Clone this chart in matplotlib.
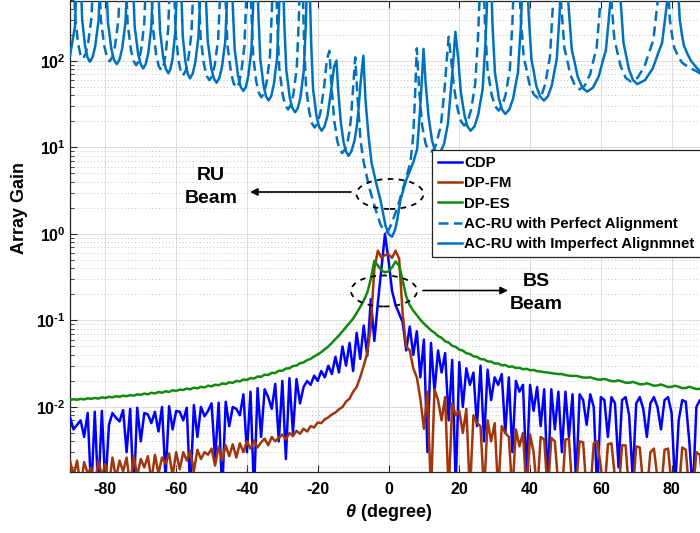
import numpy as np
import matplotlib
matplotlib.use('Agg')
import matplotlib.pyplot as plt
from matplotlib.patches import Ellipse
from matplotlib.ticker import LogLocator, NullFormatter, NullLocator

plt.rcParams['font.family'] = ['Liberation Sans', 'DejaVu Sans']
plt.rcParams['font.weight'] = 'bold'
plt.rcParams['mathtext.fontset'] = 'custom'
plt.rcParams['mathtext.rm'] = 'Liberation Sans:bold'
plt.rcParams['mathtext.bf'] = 'Liberation Sans:bold'
plt.rcParams['mathtext.it'] = 'Liberation Sans:italic'
plt.rcParams['mathtext.default'] = 'bf'
plt.rcParams['axes.unicode_minus'] = False

# ---------------- data ----------------
theta = np.arange(-90, 91)

cdp = [0.0076, 0.0055, 0.0062, 0.0070, 0.0045, 0.0085, 0.0010, 0.0088, 0.0010, 0.0090,
       0.0012, 0.0062, 0.0085, 0.0075, 0.0068, 0.0092, 0.0030, 0.0095, 0.0010, 0.0098,
       0.0040, 0.0085, 0.0082, 0.0065, 0.0088, 0.0052, 0.0100, 0.0015, 0.0102, 0.0055,
       0.0090, 0.0088, 0.0070, 0.0098, 0.0010, 0.0105, 0.0045, 0.0100, 0.0078, 0.0090,
       0.0110, 0.0025, 0.0112, 0.0010, 0.0115, 0.0060, 0.0100, 0.0095, 0.0080, 0.0140,
       0.0030, 0.0150, 0.0010, 0.0165, 0.0045, 0.0160, 0.0130, 0.0095, 0.0185, 0.0040,
       0.0200, 0.0025, 0.0215, 0.0050, 0.0210, 0.0110, 0.0170, 0.0200, 0.0180, 0.0230,
       0.0200, 0.0260, 0.0220, 0.0300, 0.0240, 0.0380, 0.0250, 0.0500, 0.0300, 0.0550,
       0.0260, 0.0720, 0.0360, 0.0870, 0.0390, 0.1770, 0.0580, 0.1600, 0.4000, 1.0000,
       0.5000, 0.2200, 0.1500, 0.1200, 0.0950, 0.0450, 0.0850, 0.0400, 0.0750, 0.0220,
       0.0600, 0.0030, 0.0550, 0.0150, 0.0450, 0.0250, 0.0420, 0.0070, 0.0350, 0.0012,
       0.0330, 0.0100, 0.0280, 0.0180, 0.0250, 0.0060, 0.0300, 0.0040, 0.0270, 0.0120,
       0.0220, 0.0180, 0.0240, 0.0050, 0.0220, 0.0030, 0.0200, 0.0150, 0.0180, 0.0016,
       0.0180, 0.0090, 0.0170, 0.0060, 0.0160, 0.0012, 0.0160, 0.0055, 0.0150, 0.0030,
       0.0150, 0.0045, 0.0140, 0.0013, 0.0140, 0.0120, 0.0062, 0.0140, 0.0100, 0.0010,
       0.0130, 0.0120, 0.0045, 0.0130, 0.0110, 0.0020, 0.0120, 0.0130, 0.0080, 0.0015,
       0.0110, 0.0130, 0.0095, 0.0045, 0.0110, 0.0130, 0.0100, 0.0055, 0.0120, 0.0130,
       0.0085, 0.0012, 0.0070, 0.0120, 0.0115, 0.0040, 0.0010, 0.0100, 0.0120, 0.0115,
       0.0105]

dp_fm = [0.0024, 0.0016, 0.0024, 0.0012, 0.0023, 0.0017, 0.0020, 0.0012, 0.0024, 0.0016,
         0.0022, 0.0012, 0.0026, 0.0015, 0.0024, 0.0018, 0.0026, 0.0012, 0.0027, 0.0016,
         0.0025, 0.0020, 0.0027, 0.0014, 0.0028, 0.0017, 0.0026, 0.0022, 0.0029, 0.0016,
         0.0030, 0.0019, 0.0030, 0.0024, 0.0031, 0.0018, 0.0032, 0.0025, 0.0030, 0.0028,
         0.0033, 0.0021, 0.0035, 0.0024, 0.0036, 0.0027, 0.0037, 0.0026, 0.0038, 0.0030,
         0.0040, 0.0033, 0.0041, 0.0034, 0.0039, 0.0043, 0.0036, 0.0045, 0.0040, 0.0044,
         0.0048, 0.0042, 0.0050, 0.0046, 0.0053, 0.0049, 0.0056, 0.0052, 0.0060, 0.0058,
         0.0066, 0.0065, 0.0072, 0.0076, 0.0082, 0.0086, 0.0094, 0.0100, 0.0115, 0.0125,
         0.0150, 0.0170, 0.0220, 0.0300, 0.0420, 0.0850, 0.4000, 0.6400, 0.5300, 0.5700,
         0.5800, 0.5300, 0.6400, 0.5200, 0.1200, 0.0500, 0.0450, 0.0280, 0.0220, 0.0124,
         0.0056, 0.0150, 0.0010, 0.0160, 0.0120, 0.0070, 0.0130, 0.0010, 0.0110, 0.0080,
         0.0090, 0.0050, 0.0095, 0.0010, 0.0080, 0.0065, 0.0060, 0.0010, 0.0070, 0.0040,
         0.0065, 0.0010, 0.0060, 0.0050, 0.0045, 0.0010, 0.0055, 0.0035, 0.0050, 0.0010,
         0.0048, 0.0030, 0.0010, 0.0045, 0.0042, 0.0010, 0.0044, 0.0040, 0.0012, 0.0010,
         0.0042, 0.0043, 0.0010, 0.0012, 0.0040, 0.0039, 0.0010, 0.0010, 0.0038, 0.0040,
         0.0020, 0.0010, 0.0037, 0.0038, 0.0015, 0.0010, 0.0036, 0.0036, 0.0010, 0.0010,
         0.0035, 0.0034, 0.0012, 0.0010, 0.0030, 0.0033, 0.0015, 0.0010, 0.0032, 0.0033,
         0.0012, 0.0010, 0.0010, 0.0034, 0.0032, 0.0010, 0.0010, 0.0030, 0.0028, 0.0010,
         0.0010]

dp_es = [0.0120, 0.0123, 0.0121, 0.0124, 0.0122, 0.0126, 0.0124, 0.0127, 0.0125, 0.0129,
         0.0127, 0.0131, 0.0129, 0.0133, 0.0131, 0.0135, 0.0133, 0.0137, 0.0135, 0.0140,
         0.0138, 0.0143, 0.0140, 0.0146, 0.0143, 0.0149, 0.0146, 0.0152, 0.0149, 0.0156,
         0.0153, 0.0159, 0.0157, 0.0163, 0.0160, 0.0167, 0.0164, 0.0171, 0.0168, 0.0176,
         0.0173, 0.0181, 0.0178, 0.0187, 0.0184, 0.0193, 0.0190, 0.0200, 0.0197, 0.0208,
         0.0205, 0.0216, 0.0213, 0.0225, 0.0223, 0.0236, 0.0234, 0.0248, 0.0247, 0.0262,
         0.0262, 0.0278, 0.0280, 0.0297, 0.0301, 0.0320, 0.0327, 0.0348, 0.0360, 0.0384,
         0.0405, 0.0430, 0.0465, 0.0500, 0.0550, 0.0610, 0.0670, 0.0750, 0.0840, 0.0940,
         0.1050, 0.1220, 0.1430, 0.1700, 0.2100, 0.3000, 0.4900, 0.4300, 0.3800, 0.3600,
         0.3700, 0.4100, 0.4800, 0.4300, 0.2900, 0.1900, 0.1500, 0.1300, 0.1150, 0.1020,
         0.0920, 0.0840, 0.0770, 0.0720, 0.0660, 0.0630, 0.0575, 0.0555, 0.0510, 0.0495,
         0.0460, 0.0448, 0.0418, 0.0410, 0.0385, 0.0380, 0.0357, 0.0355, 0.0336, 0.0335,
         0.0318, 0.0318, 0.0303, 0.0305, 0.0291, 0.0294, 0.0282, 0.0284, 0.0273, 0.0276,
         0.0266, 0.0268, 0.0259, 0.0257, 0.0252, 0.0250, 0.0246, 0.0243, 0.0240, 0.0240,
         0.0234, 0.0230, 0.0228, 0.0229, 0.0224, 0.0219, 0.0218, 0.0220, 0.0214, 0.0208,
         0.0207, 0.0211, 0.0205, 0.0199, 0.0198, 0.0203, 0.0197, 0.0191, 0.0190, 0.0195,
         0.0189, 0.0183, 0.0183, 0.0188, 0.0182, 0.0176, 0.0177, 0.0182, 0.0176, 0.0170,
         0.0171, 0.0176, 0.0171, 0.0165, 0.0166, 0.0171, 0.0166, 0.0161, 0.0162, 0.0166,
         0.0162]

# AC-RU with Perfect Alignment (dashed)
acru_perf_theta = [
    -90.0,
    -89.04, -88.55, -88.22, -87.72, -87.06, -86.4, -85.64, -84.88, -84.31, -83.93, -83.36, -82.6,
    -81.84, -81.27, -80.89, -80.32, -79.56, -78.8, -78.04, -77.28, -76.71, -76.33, -75.76, -75.0,
    -74.26, -73.71, -73.34, -72.78, -72.04, -71.3, -70.6, -69.9, -69.38, -69.03, -68.5, -67.8,
    -67.08, -66.54, -66.18, -65.64, -64.92, -64.2, -63.6, -63.0, -62.55, -62.25, -61.8, -61.2,
    -60.58, -60.12, -59.81, -59.34, -58.72, -58.1, -57.36, -56.62, -56.07, -55.7, -55.14, -54.4,
    -53.64, -53.07, -52.69, -52.12, -51.36, -50.6, -49.84, -49.08, -48.51, -48.13, -47.56, -46.8,
    -46.42, -46.04, -45.47, -45.09, -44.52, -43.76, -43.0, -42.3, -41.6, -41.08, -40.73, -40.2, -39.85, -39.5,
    -39.14, -38.78, -38.24, -37.88, -37.34, -36.62, -35.9, -35.16, -34.42, -33.87, -33.5, -32.94, -32.57, -32.2,
    -31.82, -31.44, -30.87, -30.49, -29.92, -29.16, -28.4, -27.64, -26.88, -26.31, -25.93, -25.36, -24.98, -24.6,
    -24.23, -23.86, -23.31, -22.94, -22.38, -21.64, -20.9, -20.06, -19.22, -18.59, -18.17, -17.4, -16.7,
    -16.1, -15.3, -14.8, -14.5, -13.8, -13.1, -12.3, -11.6, -11.0, -10.6, -10.0, -9.4,
    -8.7, -7.9, -7.0, -5.5, -3.8, -2.3, -1.5, -0.8, 0.0, 0.8, 2.5, 4.3, 6.2, 7.0, 7.5, 8.0,
    8.7, 9.5, 10.5, 11.2, 12.0, 12.8, 13.5, 14.8, 15.8, 16.4, 17.0,
    17.8, 18.5, 19.0, 19.6, 20.5, 21.4, 22.4, 23.3, 24.0, 24.5, 25.3, 25.85, 26.3,
    26.78, 27.26, 27.98, 28.46, 29.18, 30.14, 31.1, 32.08, 33.06, 33.8, 34.29, 35.02, 35.51, 36.0,
    36.63, 37.26, 38.2, 38.84, 39.78, 41.04, 42.3, 43.32, 44.34, 45.1, 45.62, 46.38, 46.89, 47.4,
    48.06, 48.72, 49.71, 50.37, 51.36, 52.68, 54.0, 55.48, 56.96, 58.07, 58.81, 59.92, 60.66, 61.4,
    62.1, 62.8, 63.85, 64.55, 65.6, 67.0, 68.4, 70.38, 72.36, 73.85, 74.84, 76.32, 77.31, 78.3,
    78.8, 79.5, 80.2, 80.8, 82.0, 83.0, 85.0, 86.8, 90.0]
acru_perf_gain = [
    3000,
    1110, 318, 244, 159, 119, 106, 119, 159, 244, 318, 1110, 3000,
    1040, 297, 228, 149, 111, 99, 111, 149, 228, 297, 1040, 3000,
    935, 267, 205, 134, 100, 89, 100, 134, 205, 267, 935, 3000,
    819, 234, 179, 117, 87, 78, 87, 117, 179, 234, 819, 3000,
    714, 204, 156, 102, 76, 68, 76, 102, 156, 204, 714, 3000,
    630, 180, 138, 90, 67, 60, 67, 90, 138, 180, 630, 3000,
    2000, 515, 147, 113, 74, 55, 49, 55, 74, 113, 147, 515, 2000, 3000,
    1560, 400, 114, 87, 57, 42.5, 38, 42.5, 57, 87, 114, 400, 1560, 3000,
    1130, 289, 83, 63, 41, 30.8, 27.5, 30.8, 41, 63, 83, 289, 1130, 3000,
    700, 179, 51, 39, 25.5, 19, 17, 19, 25.5, 39, 51, 105, 131,
    50, 20, 14.5, 12, 9.5, 8.6, 9.5, 11.5, 15.5, 22, 50, 110,
    35, 12, 6.7, 3.5, 2.0, 1.3, 1.12, 1.05, 1.1, 1.3, 2.0, 3.6, 6.7, 14, 40, 140,
    45, 18, 11, 9.5, 9.0, 9.5, 11, 18, 45, 95, 190,
    95, 50, 37, 27, 20, 17.9, 20, 27, 40, 54, 190, 730, 3000,
    1100, 280, 80, 61, 40, 30, 26.7, 30, 40, 61, 80, 280, 1100, 3000,
    1520, 390, 111, 85, 55, 41, 37, 41, 55, 85, 111, 390, 1520, 3000,
    1900, 490, 141, 108, 70, 52, 47, 52, 70, 108, 141, 490, 1900, 3000,
    2400, 610, 174, 133, 87, 64, 58, 64, 87, 133, 174, 610, 2400, 3000,
    1000, 300, 190, 140, 110, 95, 84, 77, 64]

# AC-RU with Imperfect Alignment (solid)
acru_imp_theta = [
    -90.0, -88.6, -87.7,
    -87.04, -86.55, -86.22, -85.72, -85.06, -84.4, -83.64, -82.88, -82.31, -81.93, -81.36, -80.6,
    -79.84, -79.27, -78.89, -78.32, -77.56, -76.8, -76.04, -75.28, -74.71, -74.33, -73.76, -73.0,
    -72.26, -71.71, -71.34, -70.78, -70.04, -69.3, -68.6, -67.9, -67.38, -67.03, -66.5, -65.8,
    -65.08, -64.54, -64.18, -63.64, -62.92, -62.2, -61.6, -61.0, -60.55, -60.25, -59.8, -59.2,
    -58.58, -58.12, -57.81, -57.34, -56.72, -56.1, -55.36, -54.62, -54.07, -53.7, -53.14, -52.4,
    -51.64, -51.07, -50.69, -50.12, -49.36, -48.6, -47.84, -47.08, -46.51, -46.13, -45.56, -44.8,
    -44.42, -44.04, -43.47, -43.09, -42.52, -41.76, -41.0, -40.3, -39.6, -39.08, -38.73, -38.2, -37.85, -37.5,
    -37.14, -36.78, -36.24, -35.88, -35.34, -34.62, -33.9, -33.16, -32.42, -31.87, -31.5, -30.94, -30.57, -30.2,
    -29.82, -29.44, -28.87, -28.49, -27.92, -27.16, -26.4, -25.64, -24.88, -24.31, -23.93, -23.36, -22.98, -22.6,
    -22.23, -21.86, -21.31, -20.94, -20.38, -19.64, -18.9, -18.06, -17.22, -16.59, -16.17, -15.4, -14.7,
    -14.2, -13.5, -13.0, -12.7, -12.0, -11.3, -10.5, -9.6, -9.0, -8.6, -7.9, -7.1,
    -6.5, -5.6, -4.8, -3.5, -2.3, -1.5, -0.85, 0.0, 1.0, 1.8, 2.4, 3.4, 5.0, 6.0, 7.0, 8.1, 9.1, 9.9,
    10.5, 11.3, 12.3, 13.1, 14.0, 14.9, 15.7, 16.8, 17.6, 18.3, 18.9,
    19.76, 20.4, 20.9, 21.5, 22.3, 23.2, 24.3, 25.3, 26.1, 26.6, 27.4, 27.97, 28.5,
    28.95, 29.4, 30.08, 30.53, 31.2, 32.1, 33.0, 34.1, 35.2, 36.03, 36.58, 37.4, 37.95, 38.5,
    39.04, 39.58, 40.39, 40.93, 41.74, 42.82, 43.9, 45.02, 46.14, 46.98, 47.54, 48.38, 48.94, 49.5,
    50.16, 50.82, 51.81, 52.47, 53.46, 54.78, 56.1, 57.74, 59.38, 60.61, 61.43, 62.66, 63.48, 64.3,
    64.9, 65.5, 66.4, 67.0, 67.9, 69.1, 70.3, 72.46, 74.62, 76.24, 77.32, 78.94, 80.02, 81.1,
    81.6, 82.3, 83.0, 83.5, 84.5, 85.5, 87.0, 88.3, 90.0]
acru_imp_gain = [
    114, 250, 3000,
    1030, 294, 225, 147, 110, 98, 110, 147, 225, 294, 1030, 3000,
    966, 276, 212, 138, 103, 92, 103, 138, 212, 276, 966, 3000,
    861, 246, 189, 123, 92, 82, 92, 123, 189, 246, 861, 3000,
    756, 216, 166, 108, 81, 72, 81, 108, 166, 216, 756, 3000,
    662, 189, 145, 95, 71, 63, 71, 95, 145, 189, 662, 3000,
    588, 168, 129, 84, 63, 56, 63, 84, 129, 168, 588, 3000,
    1845, 473, 135, 104, 68, 50, 45, 50, 68, 104, 135, 473, 1845, 3000,
    1435, 368, 105, 81, 53, 39, 35, 39, 53, 81, 105, 368, 1435, 3000,
    1046, 268, 77, 59, 38, 28.5, 25.5, 28.5, 38, 59, 77, 268, 1046, 3000,
    640, 164, 47, 36, 23.4, 17.5, 15.6, 17.5, 23.4, 36, 47, 85, 101,
    45, 20, 14, 11.5, 9.0, 8.0, 9.0, 12, 17, 24, 55, 115,
    35, 13, 6.7, 3.9, 2.5, 1.7, 1.25, 1.0, 0.93, 1.1, 1.4, 2.5, 4.2, 5.3, 6.7, 9.6, 35, 138,
    55, 23, 12, 9.3, 8.5, 9.3, 11, 19, 45, 100, 217,
    100, 45, 33, 23.4, 17.5, 15.6, 17.5, 23.4, 36, 47, 164, 640, 3000,
    1000, 256, 73, 56, 36.6, 27.3, 24.4, 27.3, 36.6, 56, 73, 256, 1000, 3000,
    1427, 365, 104, 80, 52, 39, 34.8, 39, 52, 80, 104, 365, 1427, 3000,
    1812, 464, 133, 102, 66, 49, 44.2, 49, 66, 102, 133, 464, 1812, 3000,
    2214, 567, 162, 124, 81, 60, 54, 60, 81, 124, 162, 567, 2214, 3000,
    1000, 300, 190, 150, 120, 100, 84, 74, 68]

x_ticks = [-80, -60, -40, -20, 0, 20, 40, 60, 80]
x_ticklabels = ['-80', '-60', '-40', '-20', '0', '20', '40', '60', '80']
y_ticks = [1e-2, 1e-1, 1e0, 1e1, 1e2]
y_ticklabels = ['$10^{\u20102}$', '$10^{\u20101}$', '$10^{0}$', '$10^{1}$', '$10^{2}$']
labels = ['CDP', 'DP-FM', 'DP-ES', 'AC-RU with Perfect Alignment',
          'AC-RU with Imperfect Alignmnet']

# ---------------- figure ----------------
W, H = 700, 533
fig = plt.figure(figsize=(W / 100, H / 100), dpi=100)
ax_l, ax_r, ax_t, ax_b = 70, 707, 0.5, 472
ax = fig.add_axes([ax_l / W, (H - ax_b) / H, (ax_r - ax_l) / W, (ax_b - ax_t) / H])

lw = 1.8
c_blue = '#0000FF'
c_brown = '#A0360A'
c_green = '#0F8A0F'
c_acru = '#0072BD'

ax.plot(theta, cdp, color=c_blue, lw=lw, label=labels[0], zorder=3)
ax.plot(theta, dp_fm, color=c_brown, lw=lw, label=labels[1], zorder=3)
ax.plot(theta, dp_es, color=c_green, lw=lw, label=labels[2], zorder=3)
ax.plot(acru_perf_theta, acru_perf_gain, color=c_acru, lw=lw, ls=(0, (4, 2.2)),
        label=labels[3], zorder=3)
ax.plot(acru_imp_theta, acru_imp_gain, color=c_acru, lw=lw, label=labels[4], zorder=3)

ax.set_yscale('log')
ax.set_xlim(-90, 90)
ax.set_ylim(0.00177, 500)
ax.set_xticks(x_ticks)
ax.set_xticklabels(x_ticklabels)
ax.xaxis.set_minor_locator(NullLocator())
ax.set_yticks(y_ticks)
ax.set_yticklabels(y_ticklabels)
ax.yaxis.set_minor_locator(LogLocator(base=10, subs=np.arange(2, 10)))
ax.yaxis.set_minor_formatter(NullFormatter())

dark = '#262626'
ax.tick_params(which='both', direction='in', top=True, right=True, color=dark,
               labelcolor='black', labelsize=11.5)
ax.tick_params(which='major', length=5, width=0.8)
ax.tick_params(which='minor', length=3, width=0.6)
ax.tick_params(axis='x', pad=7)
ax.tick_params(axis='y', pad=3)
for s in ax.spines.values():
    s.set_color(dark)
    s.set_linewidth(0.9)

ax.set_axisbelow(True)
ax.grid(True, which='major', color='#dcdcdc', lw=0.7, ls='-')
ax.grid(True, which='minor', axis='y', color='#c4c4c4', lw=0.7, ls=(0, (1, 2.5)))

ax.set_xlabel(r'$\mathit{\theta}$ (degree)', fontsize=13, fontweight='bold', labelpad=4)
ax.set_ylabel('Array Gain', fontsize=13, fontweight='bold')
ax.yaxis.set_label_coords(-0.066, (472 - 208) / 471.5)

leg = ax.legend(loc='upper left', bbox_to_anchor=(432 / W, 1 - 150 / H),
                bbox_transform=fig.transFigure, borderaxespad=0,
                prop={'size': 10.8, 'weight': 'bold'}, handlelength=1.6,
                handletextpad=0.15, labelspacing=0.42, borderpad=0.4,
                fancybox=False, framealpha=1, edgecolor=dark)
leg.get_frame().set_linewidth(0.9)

# annotations (axes-fraction positions)
def fx(px):
    return (px - ax_l) / (ax_r - ax_l)

def fy(py):
    return (ax_b - py) / (ax_b - ax_t)

ell_kw = dict(transform=ax.transAxes, fill=False, ec='black', lw=1.3,
              ls=(0, (3, 3)), clip_on=False, zorder=5)
ax.add_patch(Ellipse((fx(390), fy(194)), 67 / 637, 30 / 471.5, **ell_kw))
ax.add_patch(Ellipse((fx(384), fy(291)), 66 / 637, 31 / 471.5, **ell_kw))

arr_kw = dict(arrowstyle='-|>', color='black', lw=1.2, mutation_scale=11,
              shrinkA=0, shrinkB=0)
ax.annotate('', xy=(fx(250), fy(192)), xytext=(fx(351), fy(192)),
            xycoords='axes fraction', textcoords='axes fraction', arrowprops=arr_kw)
ax.annotate('', xy=(fx(508), fy(290.5)), xytext=(fx(423), fy(290.5)),
            xycoords='axes fraction', textcoords='axes fraction', arrowprops=arr_kw)

ax.text(fx(211), fy(187), 'RU\nBeam', transform=ax.transAxes, ha='center',
        va='center', fontsize=14, fontweight='bold', linespacing=1.5)
ax.text(fx(536), fy(293), 'BS\nBeam', transform=ax.transAxes, ha='center',
        va='center', fontsize=14, fontweight='bold', linespacing=1.5)

fig.savefig('out.png', dpi=100)
